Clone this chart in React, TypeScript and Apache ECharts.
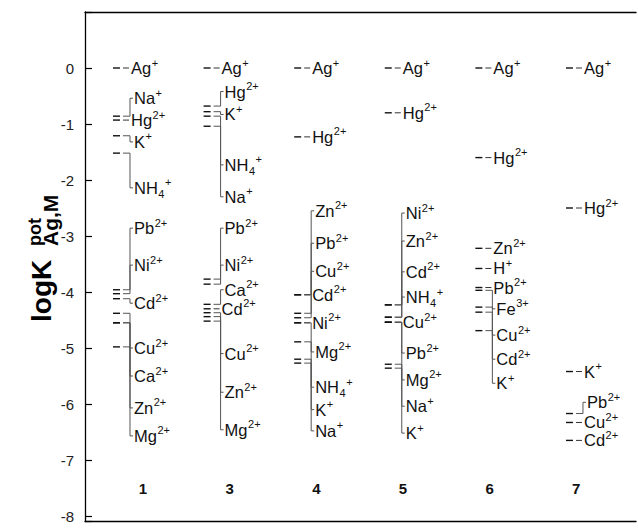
import React, { useEffect, useRef } from 'react';
import * as echarts from 'echarts';

const FONT = 'Arial, "Liberation Sans", Helvetica, sans-serif';

const columns = ['1', '3', '4', '5', '6', '7'];

const col1Ions = ['Ag+', 'Na+', 'Hg2+', 'K+', 'NH4+', 'Pb2+', 'Ni2+', 'Cd2+', 'Cu2+', 'Ca2+', 'Zn2+', 'Mg2+'];
const col1Values = [0, -0.86, -0.93, -1.21, -1.52, -3.96, -4.03, -4.12, -4.38, -4.98, -4.55, -4.55];
const col1LabelAt = [0, -0.54, -0.95, -1.32, -2.14, -2.86, -3.52, -4.2, -5.0, -5.5, -6.07, -6.57];

const col3Ions = ['Ag+', 'Hg2+', 'K+', 'NH4+', 'Na+', 'Pb2+', 'Ni2+', 'Ca2+', 'Cd2+', 'Cu2+', 'Zn2+', 'Mg2+'];
const col3Values = [0, -0.68, -0.78, -0.86, -1.04, -3.77, -3.86, -4.22, -4.3, -4.37, -4.44, -4.52];
const col3LabelAt = [0, -0.42, -0.83, -1.73, -2.3, -2.86, -3.52, -3.96, -4.34, -5.1, -5.79, -6.46];

const col4Ions = ['Ag+', 'Hg2+', 'Zn2+', 'Pb2+', 'Cu2+', 'Cd2+', 'Ni2+', 'Mg2+', 'NH4+', 'K+', 'Na+'];
const col4Values = [0, -1.23, -4.05, -4.38, -4.46, -4.05, -4.55, -4.55, -4.89, -5.2, -5.27];
const col4LabelAt = [0, -1.23, -2.55, -3.13, -3.63, -4.07, -4.52, -5.07, -5.7, -6.1, -6.48];

const col5Ions = ['Ag+', 'Hg2+', 'Ni2+', 'Zn2+', 'Cd2+', 'NH4+', 'Cu2+', 'Pb2+', 'Mg2+', 'Na+', 'K+'];
const col5Values = [0, -0.8, -4.23, -4.23, -4.45, -4.45, -4.54, -4.54, -4.54, -5.29, -5.36];
const col5LabelAt = [0, -0.8, -2.59, -3.09, -3.64, -4.09, -4.57, -5.09, -5.57, -6.04, -6.52];

const col6Ions = ['Ag+', 'Hg2+', 'Zn2+', 'H+', 'Pb2+', 'Fe3+', 'Cu2+', 'Cd2+', 'K+'];
const col6Values = [0, -1.6, -3.22, -3.58, -3.92, -3.97, -4.27, -4.36, -4.69];
const col6LabelAt = [0, -1.6, -3.2, -3.6, -3.94, -4.3, -4.77, -5.2, -5.63];

const col7Ions = ['Ag+', 'Hg2+', 'K+', 'Pb2+', 'Cu2+', 'Cd2+'];
const col7Values = [0, -2.5, -5.42, -6.17, -6.33, -6.65];
const col7LabelAt = [0, -2.5, -5.42, -5.97, -6.33, -6.65];

const yTicks = [-8, -7, -6, -5, -4, -3, -2, -1, 0];
const columnLabelLevel = -7.5;

const groups = [
  { ions: col1Ions, values: col1Values, labels: col1LabelAt },
  { ions: col3Ions, values: col3Values, labels: col3LabelAt },
  { ions: col4Ions, values: col4Values, labels: col4LabelAt },
  { ions: col5Ions, values: col5Values, labels: col5LabelAt },
  { ions: col6Ions, values: col6Values, labels: col6LabelAt },
  { ions: col7Ions, values: col7Values, labels: col7LabelAt },
];

function splitIon(name: string): { base: string; sub: string; sup: string } {
  if (name.startsWith('NH4')) return { base: 'NH', sub: '4', sup: name.slice(3) };
  const m = name.match(/^([A-Za-z]+)(\d*\+)$/);
  if (!m) return { base: name, sub: '', sup: '' };
  return { base: m[1], sub: '', sup: m[2] };
}

const BASE_FONT = `16.5px ${FONT}`;
const SMALL_FONT = `11px ${FONT}`;

let measureCtx: CanvasRenderingContext2D | null = null;
function textWidth(text: string, font: string): number {
  if (!measureCtx) measureCtx = document.createElement('canvas').getContext('2d');
  if (!measureCtx) return text.length * 9;
  measureCtx.font = font;
  return measureCtx.measureText(text).width;
}

const hiddenAxisBits = { axisTick: { show: false }, axisLabel: { show: false }, splitLine: { show: false } };

export default function App() {
  const ref = useRef<HTMLDivElement>(null);
  useEffect(() => {
    if (!ref.current) return;
    const chart = echarts.init(ref.current, undefined, { renderer: 'svg' });

    const items: { col: number; v: number; lv: number; name: string }[] = [];
    groups.forEach((g, ci) => {
      g.ions.forEach((name, k) => {
        items.push({ col: ci, v: g.values[k], lv: g.labels[k], name });
      });
    });

    const option: any = {
      animation: false,
      backgroundColor: '#fff',
      grid: { left: 85, right: 2, top: 12, bottom: 7.4 },
      xAxis: [
        {
          type: 'value', min: -0.309, max: 5.773, position: 'bottom',
          axisLine: { show: true, onZero: false, lineStyle: { color: '#000', width: 1.3 } },
          ...hiddenAxisBits,
        },
        {
          type: 'value', min: -0.67, max: 5.69, position: 'top',
          axisLine: { show: true, onZero: false, lineStyle: { color: '#000', width: 1.3 } },
          ...hiddenAxisBits,
        },
      ],
      yAxis: {
        type: 'value', min: -8.1, max: 1, splitNumber: 9,
        axisLine: { show: true, onZero: false, lineStyle: { color: '#000', width: 1.3 } },
        axisTick: { show: true, inside: true, length: 7, lineStyle: { color: '#000', width: 1.2 } },
        axisLabel: {
          margin: 11, fontSize: 15, color: '#222', fontFamily: FONT,
          showMinLabel: true,
          formatter: (v: number) => (yTicks.includes(Math.round(v * 100) / 100) ? String(Math.round(v)) : ''),
        },
        splitLine: { show: false },
      },
      graphic: [
        {
          type: 'group', x: 41, y: 322, rotation: Math.PI / 2,
          children: [
            { type: 'text', x: 0, y: 0, style: { text: 'logK', font: `bold 28px ${FONT}`, fill: '#000', align: 'left', verticalAlign: 'middle' } },
            { type: 'text', x: 76, y: -6, style: { text: 'pot', font: `bold 18px ${FONT}`, fill: '#000', align: 'left', verticalAlign: 'middle' } },
            { type: 'text', x: 76, y: 9, style: { text: 'Ag,M', font: `bold 21px ${FONT}`, fill: '#000', align: 'left', verticalAlign: 'middle' } },
          ],
        },
      ],
      series: [
        {
          type: 'custom',
          xAxisIndex: 0, yAxisIndex: 0,
          clip: false,
          data: items.map((it) => [it.col, it.v, it.lv]),
          encode: { x: 0, y: 1 },
          renderItem: (params: any, api: any) => {
            const it = items[params.dataIndex];
            const p = api.coord([it.col, it.v]);
            const q = api.coord([it.col, it.lv]);
            const x = p[0], y = p[1], ly = q[1];
            const children: any[] = [];
            children.push({ type: 'line', shape: { x1: x, y1: y, x2: x + 7, y2: y }, style: { stroke: '#111', lineWidth: 1.4 } });
            let lx: number, lyy: number;
            if (Math.abs(ly - y) < 2.5) {
              children.push({ type: 'line', shape: { x1: x + 10, y1: y, x2: x + 16, y2: y }, style: { stroke: '#333', lineWidth: 1 } });
              lx = x + 18; lyy = y;
            } else {
              children.push({
                type: 'polyline',
                shape: { points: [[x + 10, y], [x + 17, y], [x + 17, ly], [x + 20, ly]] },
                style: { stroke: '#555', lineWidth: 1, fill: null },
              });
              lx = x + 21; lyy = ly;
            }
            const parts = splitIon(it.name);
            const wBase = textWidth(parts.base, BASE_FONT);
            children.push({
              type: 'text', x: lx, y: lyy,
              style: { text: parts.base, font: BASE_FONT, fill: '#111', align: 'left', verticalAlign: 'middle' },
            });
            let sx = lx + wBase + 0.5;
            if (parts.sub) {
              children.push({
                type: 'text', x: sx, y: lyy + 6,
                style: { text: parts.sub, font: SMALL_FONT, fill: '#111', align: 'left', verticalAlign: 'middle' },
              });
              sx += textWidth(parts.sub, SMALL_FONT) + 0.5;
            }
            if (parts.sup) {
              children.push({
                type: 'text', x: sx, y: lyy - 5.5,
                style: { text: parts.sup, font: SMALL_FONT, fill: '#111', align: 'left', verticalAlign: 'middle' },
              });
            }
            return { type: 'group', children };
          },
        },
        {
          type: 'custom',
          xAxisIndex: 1, yAxisIndex: 0,
          clip: false,
          data: columns.map((c, i) => [i, columnLabelLevel]),
          encode: { x: 0, y: 1 },
          renderItem: (params: any, api: any) => {
            const p = api.coord([params.dataIndex, columnLabelLevel]);
            return {
              type: 'text', x: p[0], y: p[1],
              style: { text: columns[params.dataIndex], font: `bold 15px ${FONT}`, fill: '#111', align: 'center', verticalAlign: 'middle' },
            };
          },
        },
      ],
    };
    chart.setOption(option);
    return () => chart.dispose();
  }, []);
  return <div ref={ref} style={{ width: 638, height: 529, position: 'absolute', left: 0, top: 0 }} />;
}
